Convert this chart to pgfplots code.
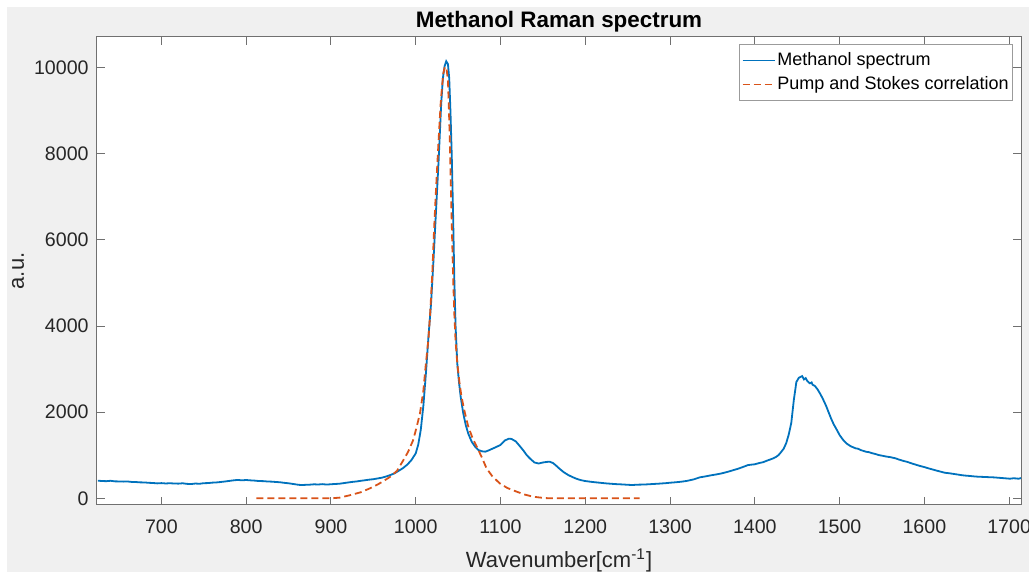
\documentclass[border=0pt]{standalone}
\usepackage{fontspec}
\setmainfont{Liberation Sans}
\usepackage{pgfplots}
\pgfplotsset{compat=1.18}
\definecolor{mblue}{HTML}{0072BD}
\definecolor{morange}{HTML}{D95319}
\definecolor{figbg}{HTML}{F0F0F0}
\definecolor{axcol}{HTML}{707070}
\definecolor{txtcol}{HTML}{262626}
\begin{document}
\begin{tikzpicture}
\useasboundingbox (0,0) rectangle (514.5pt,286pt);
\fill[figbg] (3.5pt,0) rectangle (514.5pt,282.5pt);
\begin{axis}[
  at={(48.5pt,33.5pt)}, anchor=south west,
  scale only axis, width=462pt, height=234pt,
  xmin=624, xmax=1714, ymin=-155, ymax=10710,
  axis background/.style={fill=white},
  axis line style={axcol, line width=0.5pt},
  xtick={700,800,...,1700}, ytick={0,2000,...,10000},
  tick align=inside, xtick pos=both, ytick pos=both,
  major tick length=4.2pt,
  every tick/.style={axcol, line width=0.5pt},
  scaled y ticks=false,
  /pgf/number format/set thousands separator={},
  /pgf/number format/assume math mode=true,
  tick label style={font=\fontsize{9.8}{11}\selectfont, text=txtcol, inner sep=0pt},
  xticklabel style={anchor=base, yshift=-14.3pt},
  yticklabel style={anchor=east, xshift=-4pt},
  title={\textbf{Methanol Raman spectrum}},
  every axis title shift=0pt,
  title style={at={(axis description cs:0.5,1.0207)}, anchor=base, yshift=0pt, font=\fontsize{11.2}{13}\selectfont, inner sep=0pt},
  xlabel={Wavenumber[cm\textsuperscript{-1}]},
  xlabel style={at={(axis description cs:0.5,-0.1325)}, anchor=base, font=\fontsize{11}{13}\selectfont, text=txtcol, inner sep=0pt},
  ylabel={a.u.},
  ylabel style={at={(axis description cs:-0.0855,0.5)}, anchor=center, font=\fontsize{11}{13}\selectfont, text=txtcol, inner sep=0pt},
  legend style={at={(axis description cs:1,1)}, anchor=north east, xshift=-4pt, yshift=-3.5pt,
    draw=axcol!70, line width=0.4pt, font=\fontsize{9}{11}\selectfont, text=black,
    inner xsep=1pt, inner ysep=2pt, row sep=0pt, cells={anchor=west},
    nodes={inner xsep=1pt}},
  legend image code/.code={\draw[#1] (0pt,0pt) -- (16pt,0pt);},
]
\addplot[mblue, line width=0.9pt] coordinates {
(625,409) (630,402) (635,398) (640,407) (645,394) (650,392) (655,388) (660,391)
(665,380) (670,378) (675,370) (680,369) (685,360) (690,356) (695,347) (700,353)
(705,345) (710,350) (715,344) (720,341) (725,349) (730,336) (735,331) (740,343)
(745,338) (750,351) (755,354) (760,364) (765,369) (770,379) (775,391) (780,404)
(785,417) (790,427) (795,418) (800,425) (805,417) (810,411) (815,401) (820,399)
(825,391) (830,387) (835,379) (840,373) (845,359) (850,349) (855,334) (860,319)
(865,307) (870,313) (875,317) (880,325) (885,321) (890,329) (895,319) (900,327)
(905,333) (910,339) (915,353) (920,367) (925,381) (930,391) (935,406) (940,419)
(945,433) (950,444) (955,461) (960,479) (965,506) (970,540) (975,581) (980,640)
(985,702) (990,781) (995,890) (1000,1044) (1003,1250) (1006,1600) (1009,2150)
(1012,2900) (1015,3750) (1018,4500) (1021,5550) (1024,6700) (1027,7850)
(1030,9150) (1032,9750) (1034,10030) (1036,10146) (1038,10080) (1039.5,9750)
(1041,8955) (1042.5,7950) (1044,6650) (1045.5,5100) (1047,4000) (1049,3130)
(1051,2700) (1053,2357) (1056,1980) (1059,1700) (1062,1500) (1066,1314)
(1070,1200) (1074,1121) (1078,1092) (1082,1083) (1086,1112) (1090,1148)
(1095,1192) (1100,1240) (1105,1342) (1110,1385) (1113,1378) (1118,1322)
(1122,1230) (1127,1110) (1131,1000) (1135,920) (1140,832) (1145,808)
(1150,832) (1155,846) (1158,850) (1162,818) (1166,752) (1170,680) (1175,601)
(1180,540) (1185,492) (1190,451) (1195,421) (1200,401) (1205,388) (1210,376)
(1217,362) (1225,346) (1235,331) (1245,321) (1250,314) (1256,308) (1260,316)
(1265,318) (1270,321) (1275,326) (1280,333) (1285,338) (1290,345) (1295,352)
(1300,362) (1305,370) (1310,379) (1315,390) (1320,405) (1328,440) (1335,486)
(1342,510) (1350,540) (1355,556) (1360,575) (1368,615) (1375,656) (1380,685)
(1385,720) (1392,772) (1396,782) (1400,790) (1405,818) (1410,840) (1414,872)
(1418,900) (1422,930) (1425,960) (1428,1005) (1430,1050) (1434,1150)
(1437,1280) (1440,1480) (1443,1750) (1446,2280) (1449,2700) (1452,2800)
(1455.8,2838) (1458,2760) (1460,2790) (1462,2720) (1465,2668) (1467,2690)
(1468,2640) (1471,2606) (1474,2529) (1477,2430) (1480,2320) (1484,2150)
(1487,2000) (1490,1850) (1493,1720) (1497,1580) (1500,1469) (1504,1360)
(1508,1276) (1513,1210) (1519,1160) (1522,1150) (1525,1120) (1531,1082)
(1535,1070) (1538,1050) (1542,1030) (1546,1005) (1550,990) (1555,970)
(1560,955) (1566,928) (1570,900) (1575,870) (1580,845) (1585,811) (1590,780)
(1595,750) (1600,725) (1605,695) (1610,668) (1615,640) (1620,615) (1624,594)
(1630,580) (1635,565) (1640,550) (1643,540) (1648,528) (1653,520) (1658,510)
(1663,502) (1668,498) (1672,495) (1677,490) (1682,486) (1687,478) (1692,470)
(1697,462) (1701,455) (1705,465) (1708,462) (1711,455) (1714,470)
};
\addlegendentry{Methanol spectrum}
\addplot[morange, line width=0.9pt, dash pattern=on 3.5pt off 2pt] coordinates {
(812,0) (840,0) (870,0) (900,0) (910,15) (922,70) (935,140) (946,232) (955,320)
(962,400) (970,502) (978,640) (985.5,889) (991,1080) (997,1353) (1001,1650)
(1005,1972) (1009,2500) (1012,3132) (1015,3700) (1017,4292) (1019.5,5200)
(1021.6,6225) (1023.5,7000) (1025.5,7772) (1027.5,8500) (1029.4,9165)
(1031,9550) (1032.5,9861) (1034,9990) (1035.3,10020) (1036.5,9950) (1038,9705)
(1039.2,9000) (1040.4,8158) (1041.5,7200) (1042.7,6225) (1044,5200)
(1045.5,4292) (1047,3650) (1049,3132) (1051.5,2700) (1054,2357) (1058,1980)
(1062,1662) (1067,1400) (1072,1198) (1078,950) (1083.5,696) (1090,520)
(1099,348) (1108,240) (1119,155) (1128,90) (1138,39) (1150,10) (1158,0)
(1200,0) (1264,0)
};
\addlegendentry{Pump and Stokes correlation}
\end{axis}
\end{tikzpicture}
\end{document}
